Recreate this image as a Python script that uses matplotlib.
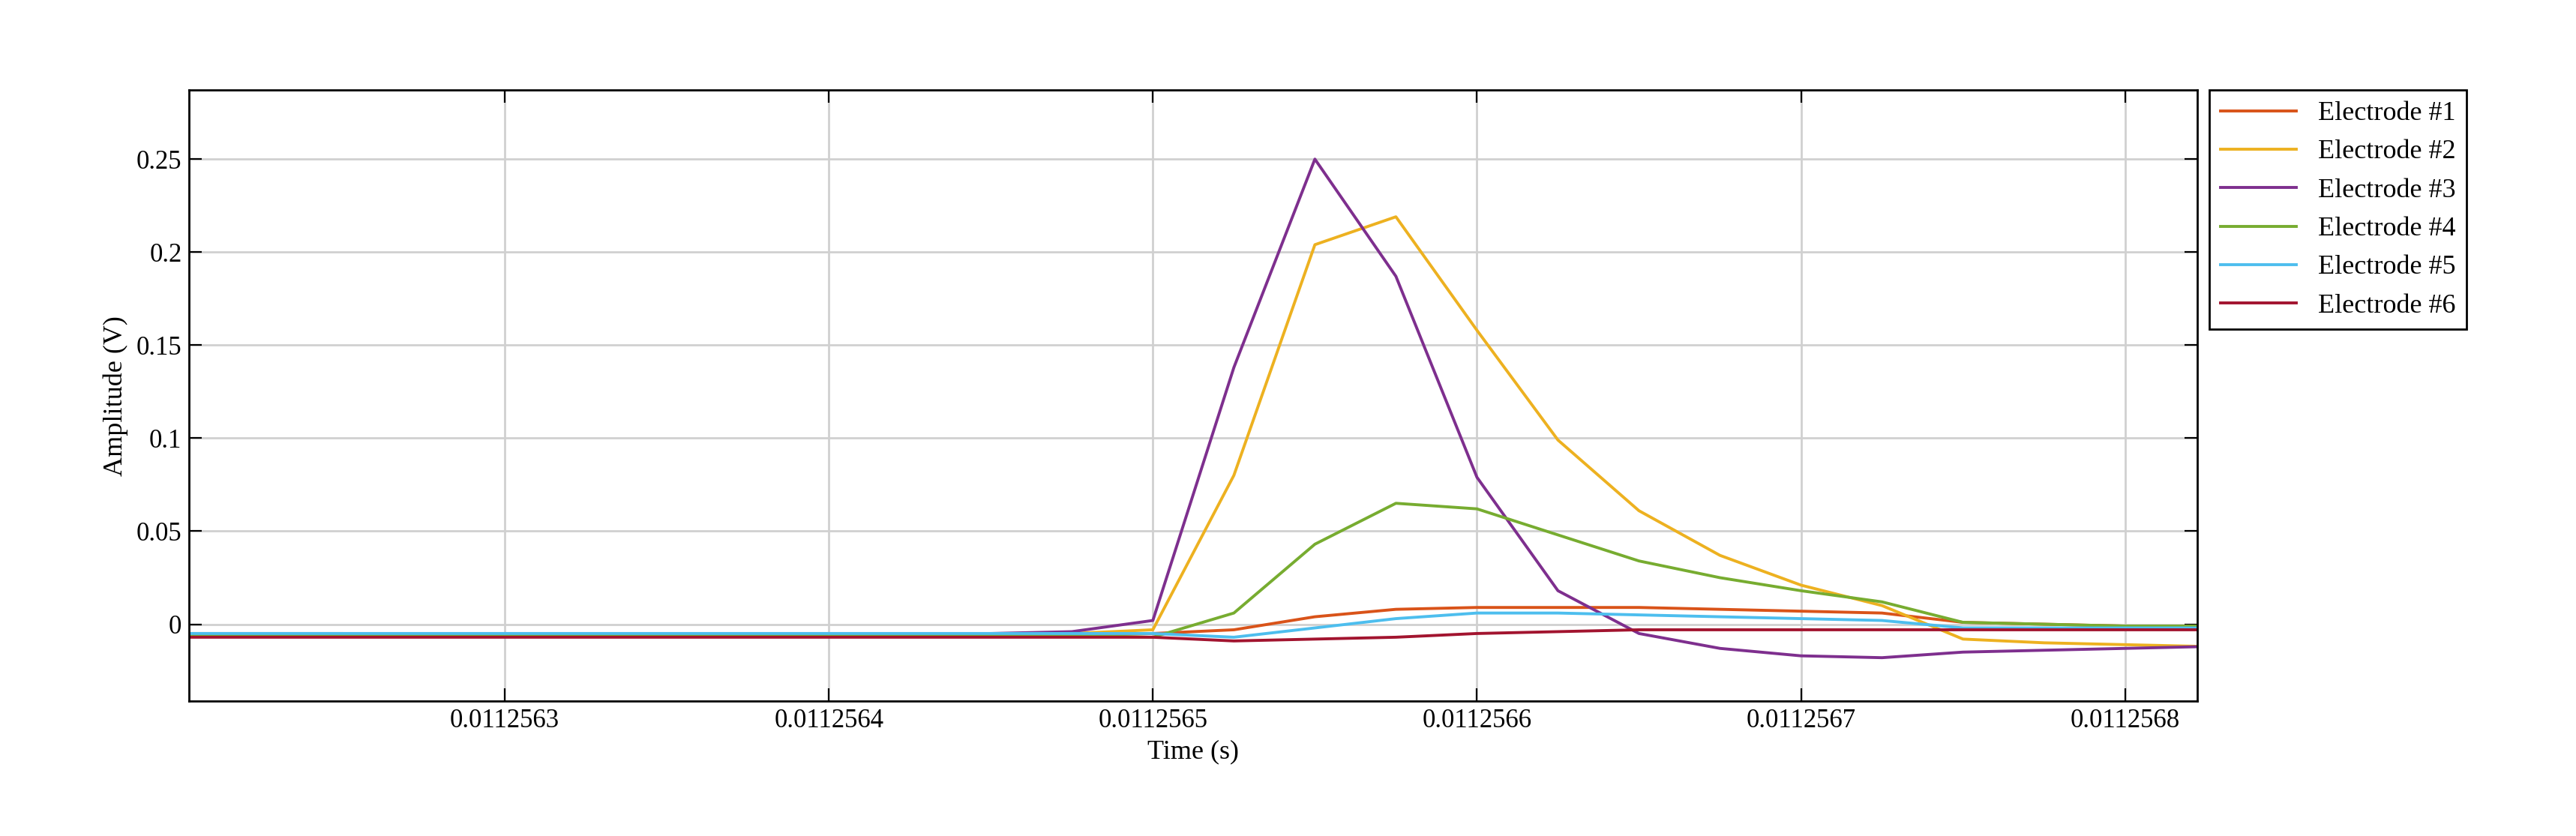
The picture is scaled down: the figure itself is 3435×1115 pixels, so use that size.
import numpy as np
import matplotlib.pyplot as plt

plt.rcParams["font.family"] = ["Liberation Serif", "DejaVu Serif"]

# time samples, 2.5e-8 s step
t0 = 0.0112562
dt = 2.5e-8
t = t0 + np.arange(26) * dt

e1 = [-0.006, -0.006, -0.006, -0.006, -0.006, -0.006, -0.006, -0.006, -0.006, -0.006,
      -0.006, -0.006, -0.005, -0.003, 0.004, 0.008, 0.009, 0.009, 0.009, 0.008,
      0.007, 0.006, 0.005, 0.004, 0.003, 0.002]
e2 = [-0.005, -0.005, -0.005, -0.006, -0.006, -0.006, -0.006, -0.006, -0.006, -0.006,
      -0.006, -0.005, -0.003, 0.080, 0.204, 0.219, 0.158, 0.099, 0.061, 0.037,
      0.021, 0.010, 0.003, -0.001, -0.004, -0.006]
e3 = [-0.005, -0.005, -0.005, -0.005, -0.005, -0.005, -0.005, -0.005, -0.005, -0.005,
      -0.005, -0.004, 0.002, 0.138, 0.250, 0.187, 0.079, 0.018, -0.005, -0.013,
      -0.017, -0.018, -0.018, -0.018, -0.017, -0.016]
e4 = [-0.006, -0.006, -0.006, -0.006, -0.006, -0.006, -0.006, -0.006, -0.006, -0.006,
      -0.006, -0.006, -0.007, 0.006, 0.043, 0.065, 0.062, 0.048, 0.034, 0.025,
      0.018, 0.012, 0.008, 0.005, 0.003, 0.002]
e5 = [-0.005, -0.005, -0.005, -0.005, -0.005, -0.005, -0.005, -0.005, -0.005, -0.005,
      -0.005, -0.005, -0.005, -0.007, -0.002, 0.003, 0.006, 0.006, 0.005, 0.004,
      0.003, 0.002, 0.001, 0.000, -0.001, -0.001]
e6 = [-0.007, -0.007, -0.007, -0.007, -0.007, -0.007, -0.007, -0.007, -0.007, -0.007,
      -0.007, -0.007, -0.007, -0.009, -0.008, -0.007, -0.005, -0.004, -0.003, -0.003,
      -0.003, -0.003, -0.003, -0.003, -0.003, -0.003]
e1_tail = [0.001, 0.000, -0.001, -0.001]
e2_tail = [-0.008, -0.010, -0.011, -0.012]
e3_tail = [-0.015, -0.014, -0.013, -0.012]
e4_tail = [0.001, 0.000, -0.001, -0.001]
e5_tail = [-0.002, -0.002, -0.002, -0.002]
e6_tail = [-0.003, -0.003, -0.003, -0.003]

n = 26
series = [e1[:n - 4] + e1_tail, e2[:n - 4] + e2_tail, e3[:n - 4] + e3_tail,
          e4[:n - 4] + e4_tail, e5[:n - 4] + e5_tail, e6[:n - 4] + e6_tail]
labels = ["Electrode #1", "Electrode #2", "Electrode #3",
          "Electrode #4", "Electrode #5", "Electrode #6"]
colors = ["#D95319", "#EDB120", "#7E2F8E", "#77AC30", "#4DBEEE", "#A2142F"]

fig = plt.figure(figsize=(17.175, 5.575), dpi=200)
ax = fig.add_axes([0.0734, 0.161, 0.7796, 0.731])
for y, lab, c in zip(series, labels, colors):
    ax.plot(t, y, color=c, lw=1.4, label=lab)

ax.set_xlim(t0 + 0.026e-7, t0 + 6.223e-7)
ax.set_ylim(-0.0415, 0.287)
xt = 0.0112563 + np.arange(6) * 1e-7
ax.set_xticks(xt)
ax.set_xticklabels(["%.7f" % v for v in xt])
ax.set_yticks([0, 0.05, 0.1, 0.15, 0.2, 0.25])
ax.set_yticklabels(["0", "0.05", "0.1", "0.15", "0.2", "0.25"])
ax.grid(True, color="#d0d0d0", lw=1.0)
ax.tick_params(direction="in", top=True, right=True, labelsize=12.5, length=6)
for s in ax.spines.values():
    s.set_linewidth(1.0)
ax.set_xlabel("Time (s)", fontsize=13, labelpad=3)
ax.set_ylabel("Amplitude (V)", fontsize=13)
leg = ax.legend(loc="upper left", bbox_to_anchor=(1.006, 1.0), fontsize=13,
                frameon=True, fancybox=False, edgecolor="black", framealpha=1,
                borderaxespad=0, handlelength=2.8, labelspacing=0.5)
leg.get_frame().set_linewidth(1.0)
fig.savefig("out.png")
